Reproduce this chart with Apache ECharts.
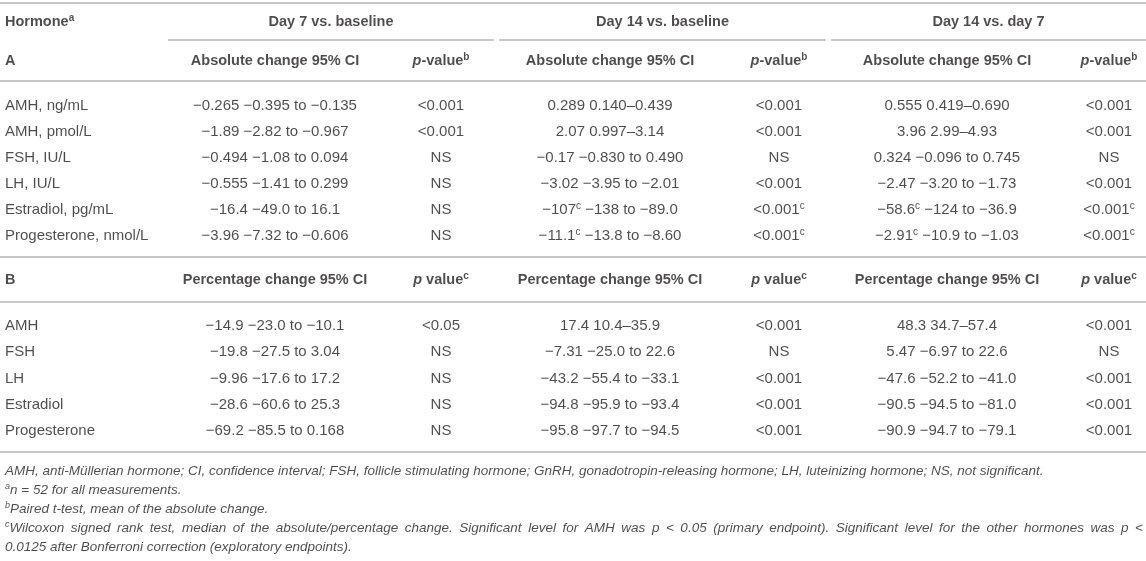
<!DOCTYPE html>
<html><head><meta charset="utf-8">
<script src="https://cdn.jsdelivr.net/npm/echarts@6/dist/echarts.min.js"></script>
<style>html,body{margin:0;padding:0;background:#fff}#c{width:1146px;height:561px}</style>
</head><body><div id="c"></div>
<script>
// ---------- table content ----------
const colHeadFirst = 'Hormone^a';
const groupHeaders = ['Day 7 vs. baseline', 'Day 14 vs. baseline', 'Day 14 vs. day 7'];
const sectionA = 'A';
const headCiA = 'Absolute change 95% CI';
const headPA = '*p*-value^b';
const sectionB = 'B';
const headCiB = 'Percentage change 95% CI';
const headPB = '*p* value^c';

const hormonesA = ['AMH, ng/mL', 'AMH, pmol/L', 'FSH, IU/L', 'LH, IU/L', 'Estradiol, pg/mL', 'Progesterone, nmol/L'];
const ciA_d7 = ['−0.265 −0.395 to −0.135', '−1.89 −2.82 to −0.967', '−0.494 −1.08 to 0.094', '−0.555 −1.41 to 0.299', '−16.4 −49.0 to 16.1', '−3.96 −7.32 to −0.606'];
const pA_d7 = ['<0.001', '<0.001', 'NS', 'NS', 'NS', 'NS'];
const ciA_d14 = ['0.289 0.140–0.439', '2.07 0.997–3.14', '−0.17 −0.830 to 0.490', '−3.02 −3.95 to −2.01', '−107^c −138 to −89.0', '−11.1^c −13.8 to −8.60'];
const pA_d14 = ['<0.001', '<0.001', 'NS', '<0.001', '<0.001^c', '<0.001^c'];
const ciA_d14d7 = ['0.555 0.419–0.690', '3.96 2.99–4.93', '0.324 −0.096 to 0.745', '−2.47 −3.20 to −1.73', '−58.6^c −124 to −36.9', '−2.91^c −10.9 to −1.03'];
const pA_d14d7 = ['<0.001', '<0.001', 'NS', '<0.001', '<0.001^c', '<0.001^c'];

const hormonesB = ['AMH', 'FSH', 'LH', 'Estradiol', 'Progesterone'];
const ciB_d7 = ['−14.9 −23.0 to −10.1', '−19.8 −27.5 to 3.04', '−9.96 −17.6 to 17.2', '−28.6 −60.6 to 25.3', '−69.2 −85.5 to 0.168'];
const pB_d7 = ['<0.05', 'NS', 'NS', 'NS', 'NS'];
const ciB_d14 = ['17.4 10.4–35.9', '−7.31 −25.0 to 22.6', '−43.2 −55.4 to −33.1', '−94.8 −95.9 to −93.4', '−95.8 −97.7 to −94.5'];
const pB_d14 = ['<0.001', 'NS', '<0.001', '<0.001', '<0.001'];
const ciB_d14d7 = ['48.3 34.7–57.4', '5.47 −6.97 to 22.6', '−47.6 −52.2 to −41.0', '−90.5 −94.5 to −81.0', '−90.9 −94.7 to −79.1'];
const pB_d14d7 = ['<0.001', 'NS', '<0.001', '<0.001', '<0.001'];

const footnotes = [
  'AMH, anti-Müllerian hormone; CI, confidence interval; FSH, follicle stimulating hormone; GnRH, gonadotropin-releasing hormone; LH, luteinizing hormone; NS, not significant.',
  '^an = 52 for all measurements.',
  '^bPaired t-test, mean of the absolute change.',
  '^cWilcoxon signed rank test, median of the absolute/percentage change. Significant level for AMH was p < 0.05 (primary endpoint). Significant level for the other hormones was p <',
  '0.0125 after Bonferroni correction (exploratory endpoints).'
];
const justifiedFootnote = 3; // this line is set justified to the full width

// ---------- layout (pixel space of the hidden axes) ----------
const W = 1146, H = 561;
const xName = 5, xRight = 1143;
const xCi = [275, 610, 947];
const xP = [441, 779, 1109];
const spans = [[168, 494], [499, 826], [831, 1146]];
const yTop = 3, yHead1 = 22, ySpan = 40, yHead2 = 61, yRuleA = 81;
const yA0 = 106, rowH = 26;
const yRuleB1 = 257, yHeadB = 280, yRuleB2 = 302, yB0 = 326, rowHB = 26.3, yRuleEnd = 452;
const yFoot0 = 471, footH = 19;

const TXT = '#231f20', RULE = '#b4b4b4';
const FONT = "'Liberation Sans', Arial, Helvetica, sans-serif";
const FOOT_SIZE = 13.5, SUP_FOOT = 9;

function rt(s) {
  return s.replace(/\*([^*]+)\*/g, (m, a) => '{it|' + a + '}')
          .replace(/\^([a-z])/g, (m, a) => '{sup|' + a + '}');
}

const bodyLeft = [], bodyCenter = [], headLeft = [], headCenter = [], foot = [];
const cell = (arr, x, y, s) => arr.push({ name: rt(s), value: [x, y] });

// headers
cell(headLeft, xName, yHead1, colHeadFirst);
groupHeaders.forEach((g, i) => cell(headCenter, (spans[i][0] + spans[i][1]) / 2, yHead1, g));
cell(headLeft, xName, yHead2, sectionA);
for (let i = 0; i < 3; i++) { cell(headCenter, xCi[i], yHead2, headCiA); cell(headCenter, xP[i], yHead2, headPA); }
cell(headLeft, xName, yHeadB, sectionB);
for (let i = 0; i < 3; i++) { cell(headCenter, xCi[i], yHeadB, headCiB); cell(headCenter, xP[i], yHeadB, headPB); }

// section A rows
const ciA = [ciA_d7, ciA_d14, ciA_d14d7], pA = [pA_d7, pA_d14, pA_d14d7];
hormonesA.forEach((h, r) => {
  const y = yA0 + r * rowH;
  cell(bodyLeft, xName, y, h);
  for (let g = 0; g < 3; g++) { cell(bodyCenter, xCi[g], y, ciA[g][r]); cell(bodyCenter, xP[g], y, pA[g][r]); }
});
// section B rows
const ciB = [ciB_d7, ciB_d14, ciB_d14d7], pB = [pB_d7, pB_d14, pB_d14d7];
hormonesB.forEach((h, r) => {
  const y = yB0 + r * rowHB;
  cell(bodyLeft, xName, y, h);
  for (let g = 0; g < 3; g++) { cell(bodyCenter, xCi[g], y, ciB[g][r]); cell(bodyCenter, xP[g], y, pB[g][r]); }
});

// footnotes (one line justified by spreading its words over the full width)
const ctx = document.createElement('canvas').getContext('2d');
function measure(word) {
  let w = 0;
  const m = word.match(/^\^([a-z])(.*)$/);
  let rest = word;
  if (m) { ctx.font = 'italic ' + SUP_FOOT + 'px ' + FONT; w += ctx.measureText(m[1]).width; rest = m[2]; }
  ctx.font = 'italic ' + FOOT_SIZE + 'px ' + FONT;
  return w + ctx.measureText(rest).width;
}
footnotes.forEach((f, i) => {
  const y = yFoot0 + i * footH;
  if (i !== justifiedFootnote) { cell(foot, xName, y, f); return; }
  const words = f.split(' ');
  const widths = words.map(measure);
  const total = widths.reduce((a, b) => a + b, 0);
  const gap = (xRight - xName - total) / (words.length - 1);
  let x = xName;
  words.forEach((w, k) => { cell(foot, x, y, w); x += widths[k] + gap; });
});

const rules = [[0, W, yTop], ...spans.map(s => [s[0], s[1], ySpan]), [0, W, yRuleA], [0, W, yRuleB1], [0, W, yRuleB2], [0, W, yRuleEnd]];

function textSeries(data, opts) {
  const bold = !!opts.bold, italic = !!opts.italic;
  return {
    type: 'scatter', data: data, symbolSize: 0, silent: true, z: 3,
    label: {
      show: true, position: 'inside', formatter: p => p.name,
      color: TXT, fontFamily: FONT, fontSize: opts.size, fontWeight: bold ? 'bold' : 'normal',
      fontStyle: italic ? 'italic' : 'normal',
      align: opts.align, verticalAlign: 'middle', lineHeight: opts.lh,
      rich: {
        sup: { fontSize: opts.supSize, lineHeight: opts.supSize, verticalAlign: 'top', color: TXT, fontFamily: FONT,
               fontWeight: bold ? 'bold' : 'normal', fontStyle: italic ? 'italic' : 'normal' },
        it: { fontStyle: 'italic', fontSize: opts.size, lineHeight: opts.lh, color: TXT, fontFamily: FONT,
              fontWeight: bold ? 'bold' : 'normal' }
      }
    }
  };
}

const chart = echarts.init(document.getElementById('c'), null, { renderer: 'canvas' });
chart.setOption({
  animation: false,
  backgroundColor: '#ffffff',
  grid: { left: 0, right: 0, top: 0, bottom: 0 },
  xAxis: { type: 'value', min: 0, max: W, show: false },
  yAxis: { type: 'value', min: 0, max: H, inverse: true, show: false },
  series: [
    {
      type: 'lines', coordinateSystem: 'cartesian2d', polyline: false, silent: true, z: 1,
      data: rules.map(r => ({ coords: [[r[0], r[2]], [r[1], r[2]]] })),
      lineStyle: { color: RULE, width: 1.6, opacity: 1, curveness: 0 },
      symbol: ['none', 'none']
    },
    textSeries(headLeft, { bold: true, size: 14.5, lh: 18, supSize: 10, align: 'left' }),
    textSeries(headCenter, { bold: true, size: 14.5, lh: 18, supSize: 10, align: 'center' }),
    textSeries(bodyLeft, { size: 15, lh: 18, supSize: 10, align: 'left' }),
    textSeries(bodyCenter, { size: 15, lh: 18, supSize: 10, align: 'center' }),
    textSeries(foot, { italic: true, size: FOOT_SIZE, lh: 16, supSize: SUP_FOOT, align: 'left' })
  ]
});
</script>
</body></html>
